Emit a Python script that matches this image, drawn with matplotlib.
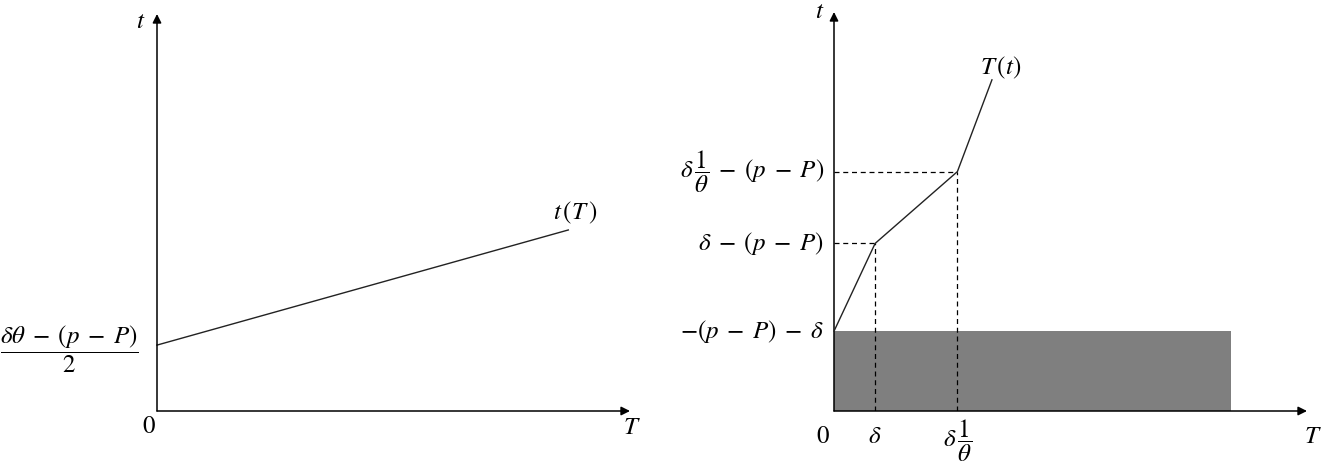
import matplotlib
matplotlib.use("Agg")
import matplotlib.pyplot as plt
from matplotlib.patches import Rectangle

plt.rcParams['mathtext.fontset'] = 'stix'
plt.rcParams['font.family'] = 'STIXGeneral'

# left panel: t(T) line
left_T = [0.0, 10.0]
left_t = [1.66, 4.56]

# right panel: piecewise T(t)
right_T = [0.0, 1.0, 3.0, 3.84]
right_t = [2.0, 4.2, 6.0, 8.3]
delta = 1.0
delta_over_theta = 3.0
rect_width = 9.66
rect_height = 2.0

M = r'\;-\;'  # wider minus like the reference
right_ylabels = [r'$-(p' + M + r'P)' + M + r'\delta$',
                 r'$\delta' + M + r'(p' + M + r'P)$',
                 r'$\delta\,\dfrac{1}{\theta}' + M + r'(p' + M + r'P)$']
right_xlabels = [r'$0$', r'$\delta$', r'$\delta\,\dfrac{1}{\theta}$']
left_label = r'$\dfrac{\delta\theta' + M + r'(p' + M + r'P)}{2}$'

FS = 18
W, H = 1325, 470
fig = plt.figure(figsize=(W / 100, H / 100), dpi=100)


def make_axes(ox, oy, w, h):
    ax = fig.add_axes([ox / W, (H - oy) / H, w / W, h / H])
    ax.set_xlim(0, 11.5)
    ax.set_ylim(0, 10)
    ax.axis('off')
    arrow = dict(arrowstyle='-|>', color='black', lw=1.1, mutation_scale=13,
                 shrinkA=0, shrinkB=0)
    ax.annotate('', xy=(11.5, 0), xytext=(0, 0), arrowprops=arrow, annotation_clip=False)
    ax.annotate('', xy=(0, 10), xytext=(0, 0), arrowprops=arrow, annotation_clip=False)
    return ax


# ---- left ----
ax1 = make_axes(157, 411, 473, 397)
ax1.plot(left_T, left_t, color='#222222', lw=1.0, clip_on=False)
ax1.text(-2.12, left_t[0] - 0.1, left_label, fontsize=FS, ha='center', va='center')
ax1.text(-0.19, -0.4, r'$0$', fontsize=FS, ha='center', va='center')
ax1.text(11.55, -0.43, r'$T$', fontsize=FS, ha='center', va='center')
ax1.text(-0.39, 9.8, r'$t$', fontsize=FS, ha='center', va='center')
ax1.text(10.17, 4.99, r'$t\,(T\,)$', fontsize=FS, ha='center', va='center')

# ---- right ----
ax2 = make_axes(834, 411, 473, 399)
ax2.add_patch(Rectangle((0, 0), rect_width, rect_height, facecolor='#7f7f7f',
                        edgecolor='none', zorder=1))
ax2.plot(right_T, right_t, color='#222222', lw=1.0, clip_on=False, zorder=3)
for x, y in [(delta, right_t[1]), (delta_over_theta, right_t[2])]:
    ax2.plot([0, x], [y, y], color='black', lw=0.9, ls=(0, (4, 3)), zorder=2)
    ax2.plot([x, x], [0, y], color='black', lw=0.9, ls=(0, (4, 3)), zorder=2)

for lab, y in zip(right_ylabels, [right_t[0], right_t[1], right_t[2]]):
    ax2.text(-0.25, y, lab, fontsize=FS, ha='right', va='center')
ax2.text(-0.27, -0.65, right_xlabels[0], fontsize=FS, ha='center', va='center')
ax2.text(delta, -0.65, right_xlabels[1], fontsize=FS, ha='center', va='center')
ax2.text(delta_over_theta, -0.75, right_xlabels[2], fontsize=FS, ha='center', va='center')
ax2.text(11.65, -0.65, r'$T$', fontsize=FS, ha='center', va='center')
ax2.text(-0.34, 10.0, r'$t$', fontsize=FS, ha='center', va='center')
ax2.text(4.04, 8.6, r'$T\,(t)$', fontsize=FS, ha='center', va='center')

fig.savefig('out.png', dpi=100)
